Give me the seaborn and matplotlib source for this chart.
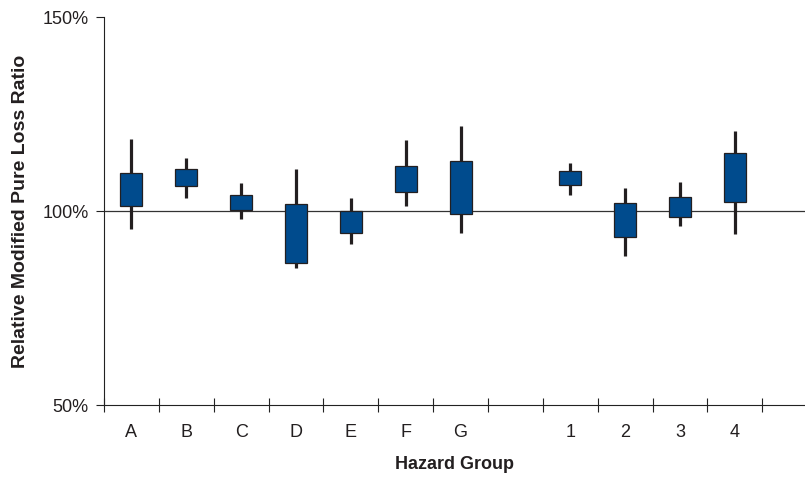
import pandas as pd
import numpy as np
import matplotlib.pyplot as plt
import seaborn as sns

# values (percent)
groups = ["A", "B", "C", "D", "E", "F", "G", " ", "1", "2", "3", "4"]
labels = ["A", "B", "C", "D", "E", "F", "G", "", "1", "2", "3", "4"]
low = [95.3, 103.4, 97.9, 85.4, 91.6, 101.4, 94.4, None, 104.0, 88.5, 96.2, 94.0]
box_low = [101.2, 106.4, 100.3, 86.6, 94.4, 104.8, 99.1, None, 106.6, 93.3, 98.5, 102.2]
box_high = [109.9, 110.7, 104.2, 101.8, 100.0, 111.5, 113.0, None, 110.2, 102.1, 103.6, 115.0]
high = [118.5, 113.7, 107.3, 110.7, 103.4, 118.3, 121.8, None, 112.3, 105.8, 107.6, 120.6]

# each group -> 5 points so the quartiles land on the box edges, min/max on whisker ends
rows = []
for g, lo, q1, q3, hi in zip(groups, low, box_low, box_high, high):
    if lo is None:
        continue
    for v in [lo, q1, (q1 + q3) / 2, q3, hi]:
        rows.append({"group": g, "value": v})
df = pd.DataFrame(rows)

sns.set_style("ticks")
plt.rcParams["font.family"] = ["Liberation Sans", "DejaVu Sans"]

fig = plt.figure(figsize=(8.05, 4.78), dpi=100)
ax = fig.add_axes([104 / 805, 1 - 405 / 478, 1 - 104 / 805, 388 / 478])

ax.axhline(100, color="#333333", lw=0.9, zorder=0.5)

sns.boxplot(data=df, x="group", y="value", order=groups, ax=ax,
            width=0.4, whis=(0, 100), showcaps=False, showfliers=False,
            color="#004B8D", saturation=1, linecolor="#231F20", linewidth=0.9,
            whiskerprops={"linewidth": 2.3},
            medianprops={"linewidth": 0})

ax.set_ylim(50, 150)
ax.set_yticks([50, 100, 150])
ax.set_yticklabels(["50%", "100%", "150%"])
ax.set_xlim(-0.5, 12.28)

# tick marks sit between groups, labels at group centres
ax.set_xticks(np.arange(len(groups) + 1) - 0.5)
ax.set_xticklabels([])
ax.set_xticks(np.arange(len(groups)), minor=True)
ax.set_xticklabels(labels, minor=True)

ax.tick_params(axis="x", which="major", direction="inout", length=10, width=0.8, color="#222222")
ax.tick_params(axis="x", which="minor", length=0, pad=14, labelsize=13, labelcolor="#231F20")
ax.tick_params(axis="y", direction="out", length=6, width=0.8, pad=5, labelsize=13,
               color="#222222", labelcolor="#231F20")

sns.despine(ax=ax, top=True, right=True)
for s in ["left", "bottom"]:
    ax.spines[s].set_color("#222222")
    ax.spines[s].set_linewidth(0.8)

ax.set_xlabel("Hazard Group", fontsize=13, fontweight="bold", color="#231F20")
ax.set_ylabel("Relative Modified Pure Loss Ratio", fontsize=14, fontweight="bold", color="#231F20")
ax.xaxis.set_label_coords(0.5, -0.132)
ax.yaxis.set_label_coords(-0.107, 0.5)

fig.savefig("out.png", dpi=100)
